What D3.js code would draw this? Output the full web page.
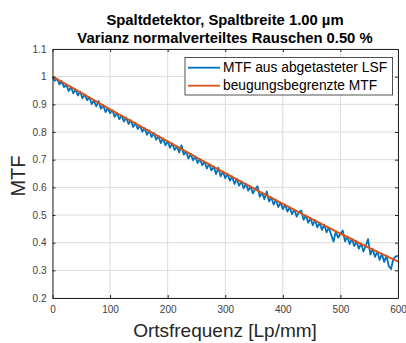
<!DOCTYPE html>
<html>
<head>
<meta charset="utf-8">
<script src="https://cdn.jsdelivr.net/npm/d3@7"></script>
<style>
  body { margin: 0; background: #fff; }
  svg { display: block; font-family: "Liberation Sans", Arial, sans-serif; }
  .grid line { stroke: #dcdcdc; stroke-width: 1; }
  .tick text { fill: #404040; font-size: 10px; }
</style>
</head>
<body>
<svg id="chart" width="406" height="343"></svg>
<script>
// Ortsfrequenz [Lp/mm] for the diffraction limited curve
const freqOrange = [0, 50, 100, 150, 200, 250, 300, 350, 400, 450, 500, 550, 600];
const mtfOrange = [1.000, 0.941, 0.882, 0.824, 0.766, 0.708, 0.651, 0.595, 0.540, 0.486, 0.433, 0.381, 0.332];

// sampled LSF MTF, one value every 4 Lp/mm (0..600)
const freqStep = 4;
const mtfBlue = [
  0.998, 0.985, 0.993, 0.972, 0.984, 0.962, 0.970, 0.948, 0.963, 0.940, 0.954, 0.932, 0.946,
  0.922, 0.936, 0.915, 0.926, 0.901, 0.914, 0.893, 0.912, 0.884, 0.897, 0.872, 0.886,
  0.868, 0.879, 0.855, 0.869, 0.846, 0.860, 0.838, 0.852, 0.829, 0.843, 0.818, 0.833, 0.811,
  0.823, 0.801, 0.814, 0.790, 0.806, 0.782, 0.797, 0.772, 0.786, 0.760, 0.777, 0.752,
  0.767, 0.743, 0.759, 0.735, 0.748, 0.726, 0.752, 0.718, 0.730, 0.704, 0.721, 0.698, 0.711,
  0.688, 0.703, 0.680, 0.693, 0.668, 0.685, 0.661, 0.675, 0.648, 0.671, 0.640, 0.657,
  0.633, 0.649, 0.624, 0.639, 0.612, 0.631, 0.606, 0.621, 0.596, 0.613, 0.588, 0.603, 0.578,
  0.594, 0.604, 0.566, 0.581, 0.557, 0.585, 0.549, 0.563, 0.538, 0.555, 0.529, 0.545,
  0.521, 0.538, 0.512, 0.528, 0.503, 0.520, 0.494, 0.511, 0.516, 0.483, 0.498, 0.472, 0.489,
  0.463, 0.482, 0.455, 0.472, 0.446, 0.465, 0.437, 0.455, 0.428, 0.404, 0.440, 0.418,
  0.432, 0.444, 0.405, 0.422, 0.395, 0.414, 0.388, 0.405, 0.378, 0.397, 0.368, 0.388, 0.413,
  0.357, 0.377, 0.349, 0.368, 0.338, 0.360, 0.330, 0.353, 0.315, 0.305, 0.342, 0.350, 0.352
];

const xTicks = [0, 100, 200, 300, 400, 500, 600];
const yTicks = [0.2, 0.3, 0.4, 0.5, 0.6, 0.7, 0.8, 0.9, 1, 1.1];
const titleLines = ["Spaltdetektor, Spaltbreite 1.00 µm", "Varianz normalverteiltes Rauschen 0.50 %"];
const legendLabels = ["MTF aus abgetasteter LSF", "beugungsbegrenzte MTF"];
const colors = ["#0072BD", "#D95319"];

const svg = d3.select('#chart');
const plotLeft = 52.5, plotRight = 398, plotTop = 49, plotBottom = 298;

const x = d3.scaleLinear().domain([0, 600]).range([plotLeft, plotRight]);
const y = d3.scaleLinear().domain([0.2, 1.1]).range([plotBottom, plotTop]);

// grid
const grid = svg.append('g').attr('class', 'grid');
grid.selectAll('.gx').data(xTicks).enter().append('line')
  .attr('x1', d => x(d)).attr('x2', d => x(d)).attr('y1', plotTop).attr('y2', plotBottom);
grid.selectAll('.gy').data(yTicks).enter().append('line')
  .attr('x1', plotLeft).attr('x2', plotRight).attr('y1', d => y(d)).attr('y2', d => y(d));

// lines
const blueData = mtfBlue.map((v, i) => [i * freqStep, v]);
const orangeData = freqOrange.map((f, i) => [f, mtfOrange[i]]);
const line = d3.line().x(d => x(d[0])).y(d => y(d[1]));

svg.append('path').datum(blueData)
  .attr('fill', 'none').attr('stroke', colors[0]).attr('stroke-width', 1.8)
  .attr('stroke-linejoin', 'round').attr('d', line);
svg.append('path').datum(orangeData)
  .attr('fill', 'none').attr('stroke', colors[1]).attr('stroke-width', 2)
  .attr('d', d3.line().curve(d3.curveMonotoneX).x(d => x(d[0])).y(d => y(d[1])));

// axes (ticks inside, box)
const axisColor = '#262626';
svg.append('g').attr('transform', `translate(0,${plotBottom})`)
  .call(d3.axisBottom(x).tickValues(xTicks).tickSizeInner(-3).tickSizeOuter(0).tickPadding(8))
  .call(g => g.select('.domain').attr('stroke', axisColor))
  .call(g => g.selectAll('.tick line').attr('stroke', axisColor));
svg.append('g').attr('transform', `translate(${plotLeft},0)`)
  .call(d3.axisLeft(y).tickValues(yTicks).tickFormat(d3.format('~g')).tickSizeInner(-3).tickSizeOuter(0).tickPadding(6))
  .call(g => g.select('.domain').attr('stroke', axisColor))
  .call(g => g.selectAll('.tick line').attr('stroke', axisColor));
svg.append('g').attr('transform', `translate(0,${plotTop})`)
  .call(d3.axisTop(x).tickValues(xTicks).tickSizeInner(-3).tickSizeOuter(0).tickFormat(''))
  .call(g => g.select('.domain').attr('stroke', axisColor))
  .call(g => g.selectAll('.tick line').attr('stroke', axisColor));
svg.append('g').attr('transform', `translate(${plotRight},0)`)
  .call(d3.axisRight(y).tickValues(yTicks).tickSizeInner(-3).tickSizeOuter(0).tickFormat(''))
  .call(g => g.select('.domain').attr('stroke', axisColor))
  .call(g => g.selectAll('.tick line').attr('stroke', axisColor));

// title
svg.append('text').attr('x', 225).attr('y', 25).attr('text-anchor', 'middle')
  .attr('font-size', 14.8).attr('font-weight', 'bold').text(titleLines[0]);
svg.append('text').attr('x', 225).attr('y', 43).attr('text-anchor', 'middle')
  .attr('font-size', 14.8).attr('font-weight', 'bold').text(titleLines[1]);

// axis labels
svg.append('text').attr('x', 225).attr('y', 337).attr('text-anchor', 'middle')
  .attr('font-size', 19).attr('fill', '#262626').text('Ortsfrequenz [Lp/mm]');
svg.append('text').attr('transform', 'translate(25,176) rotate(-90)').attr('text-anchor', 'middle')
  .attr('font-size', 20).attr('fill', '#262626').text('MTF');

// legend
const lg = svg.append('g');
lg.append('rect').attr('x', 185).attr('y', 57.5).attr('width', 207.5).attr('height', 37.5)
  .attr('fill', '#fff').attr('stroke', '#262626').attr('stroke-width', 0.8);
legendLabels.forEach((t, i) => {
  const ly = 67.7 + i * 18;
  lg.append('line').attr('x1', 188).attr('x2', 220).attr('y1', ly).attr('y2', ly)
    .attr('stroke', colors[i]).attr('stroke-width', 1.8);
  lg.append('text').attr('x', 223).attr('y', ly + 4.5).attr('font-size', 13.8)
    .attr('fill', '#000').text(t);
});
</script>
</body>
</html>
